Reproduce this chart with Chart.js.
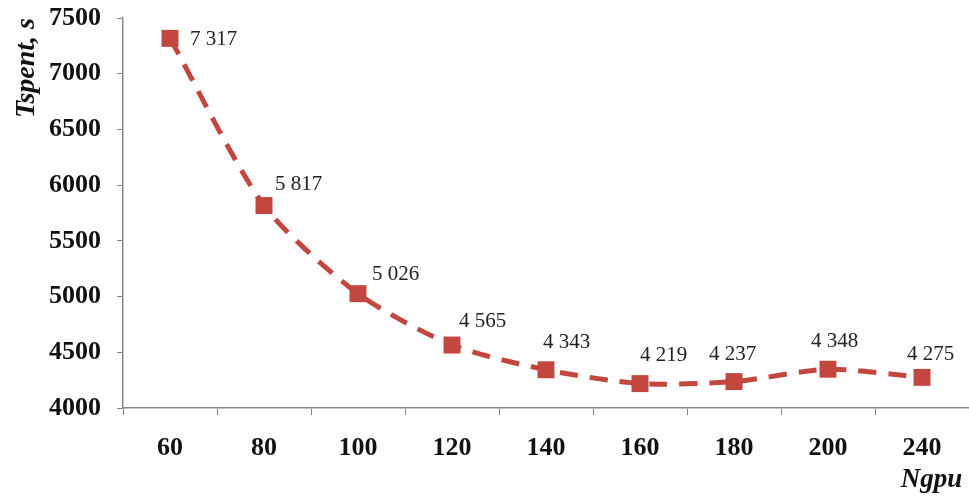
<!DOCTYPE html>
<html>
<head>
<meta charset="utf-8">
<script src="https://cdn.jsdelivr.net/npm/chart.js@4"></script>
<style>
  body { margin: 0; background: #fff; }
  #wrap { width: 969px; height: 496px; }
</style>
</head>
<body>
<div id="wrap"><canvas id="lineChart" width="969" height="496"></canvas></div>
<script>
// data
var ngpu = ['60', '80', '100', '120', '140', '160', '180', '200', '240'];
var tspent = [7317, 5817, 5026, 4565, 4343, 4219, 4237, 4348, 4275];
var yTicks = [4000, 4500, 5000, 5500, 6000, 6500, 7000, 7500];

var red = '#c4473f';
var serif = "'Liberation Serif', 'Times New Roman', serif";

// label placement (left edge / middle), relative to each point
var labelShift = [[20, 1], [11, -21], [14, -19], [7, -24], [-3, -27], [0, -28], [-25, -27], [-17, -28], [-15, -23]];

var dataLabels = {
    id: 'dataLabels',
    afterDatasetsDraw: function(chart) {
        var ctx = chart.ctx;
        var meta = chart.getDatasetMeta(0);
        ctx.save();
        ctx.font = '21px ' + serif;
        ctx.fillStyle = '#222';
        ctx.textAlign = 'left';
        ctx.textBaseline = 'middle';
        meta.data.forEach(function(pt, i) {
            var v = tspent[i];
            var txt = Math.floor(v / 1000) + ' ' + String(v % 1000).padStart(3, '0');
            ctx.fillText(txt, pt.x + labelShift[i][0], pt.y + labelShift[i][1]);
        });
        ctx.restore();
    }
};

var Linectx = document.getElementById('lineChart').getContext('2d');

var myChart1 = new Chart(Linectx, {
    type: 'line',
    data: {
        labels: ngpu,
        datasets: [{
            data: tspent,
            fill: false,
            borderColor: red,
            backgroundColor: red,
            borderWidth: 5,
            borderDash: [18, 12],
            tension: 0.25,
            pointStyle: 'rect',
            pointRadius: 12,
            pointHoverRadius: 12,
            pointBackgroundColor: red,
            pointBorderColor: red,
            pointBorderWidth: 0
        }]
    },
    options: {
        responsive: false,
        animation: false,
        layout: {
            autoPadding: false,
            padding: { top: 18, right: 0, left: 6, bottom: 0 }
        },
        plugins: {
            legend: { display: false },
            tooltip: { enabled: false }
        },
        scales: {
            x: {
                offset: true,
                grid: {
                    offset: true,
                    drawOnChartArea: false,
                    tickLength: 7,
                    color: '#888'
                },
                border: { color: '#888', width: 1.5 },
                ticks: {
                    color: '#111',
                    padding: 18,
                    font: { family: serif, size: 26, weight: 'bold' }
                },
                title: {
                    display: true,
                    text: 'Ngpu ',
                    align: 'end',
                    color: '#111',
                    padding: { top: 0, bottom: 0 },
                    font: { family: serif, size: 27, weight: 'bold', style: 'italic' }
                },
                afterFit: function(scale) {
                    scale.height = 88;
                }
            },
            y: {
                min: 4000,
                max: 7500,
                afterBuildTicks: function(scale) {
                    scale.ticks = yTicks.map(function(v) { return { value: v }; });
                },
                grid: {
                    drawOnChartArea: false,
                    tickLength: 6,
                    color: '#888'
                },
                border: { color: '#888', width: 1.5 },
                ticks: {
                    color: '#111',
                    padding: 16,
                    font: { family: serif, size: 26, weight: 'bold' },
                    callback: function(value) {
                        return value;
                    }
                },
                title: {
                    display: true,
                    text: 'Tspent, s',
                    align: 'end',
                    color: '#111',
                    padding: { top: 4, bottom: 0 },
                    font: { family: serif, size: 28, weight: 'bold', style: 'italic' }
                },
                afterFit: function(scale) {
                    scale.width = 117;
                    scale.paddingTop = 0;
                    scale.paddingBottom = 0;
                }
            }
        }
    },
    plugins: [dataLabels]
});
</script>
</body>
</html>
